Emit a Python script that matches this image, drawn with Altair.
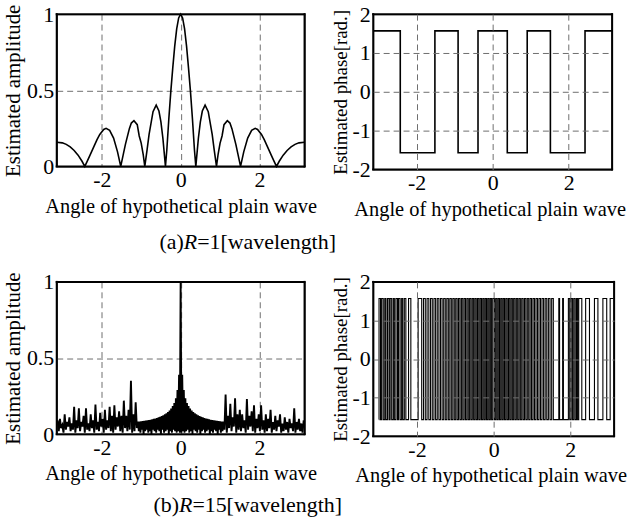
import altair as alt
import pandas as pd

FONT = "Liberation Serif"
PI = 3.1416
HALF_PI = 1.5708

# ---------------- (a) R = 1 wavelength ----------------
# amplitude
amp_a_x = [-3.1416, -3.0, -2.9, -2.8, -2.7, -2.6, -2.5, -2.43, -2.37, -2.3, -2.2, -2.12,
           -2.05, -1.95, -1.89, -1.8, -1.7, -1.6, -1.519, -1.45, -1.4, -1.3, -1.25, -1.184,
           -1.1, -1.05, -1.0, -0.95, -0.909, -0.85, -0.8, -0.7, -0.62, -0.55, -0.5, -0.45,
           -0.385, -0.35, -0.3, -0.25, -0.2, -0.15, -0.1, -0.05, 0.0,
           0.05, 0.1, 0.15, 0.2, 0.25, 0.3, 0.35, 0.385, 0.45, 0.5, 0.55, 0.62, 0.7, 0.8,
           0.85, 0.909, 0.95, 1.0, 1.05, 1.1, 1.184, 1.25, 1.3, 1.4, 1.45, 1.519, 1.6, 1.7,
           1.8, 1.89, 1.95, 2.05, 2.12, 2.2, 2.3, 2.37, 2.43, 2.5, 2.6, 2.7, 2.8, 2.9, 3.0,
           3.1416]
amp_a_y = [0.159, 0.155, 0.145, 0.128, 0.105, 0.074, 0.034, 0.0, 0.033, 0.073, 0.13, 0.176,
           0.21, 0.243, 0.25, 0.237, 0.186, 0.096, 0.0, 0.084, 0.145, 0.248, 0.285, 0.30,
           0.274, 0.20, 0.153, 0.08, 0.0, 0.11, 0.21, 0.36, 0.403, 0.364, 0.292, 0.185,
           0.0, 0.11, 0.31, 0.49, 0.646, 0.79, 0.904, 0.975, 1.0,
           0.975, 0.904, 0.79, 0.646, 0.49, 0.31, 0.11, 0.0, 0.185, 0.292, 0.364, 0.403, 0.36, 0.21,
           0.11, 0.0, 0.08, 0.153, 0.20, 0.274, 0.30, 0.285, 0.248, 0.145, 0.084, 0.0, 0.096, 0.186,
           0.237, 0.25, 0.243, 0.21, 0.176, 0.13, 0.073, 0.033, 0.0, 0.034, 0.074, 0.105, 0.128, 0.145, 0.155,
           0.159]

# phase: +pi/2 / -pi/2 step, positions where it flips
phase_a_start, phase_a_end, phase_a_first = -3.1416, 3.1416, 1
phase_a_flips = [-2.43, -1.519, -0.909, -0.385, 0.385, 0.909, 1.519, 2.43]

# ---------------- (b) R = 15 wavelength ----------------
# amplitude: spikes at the left side (sampled every 0.06 from -3.12) with the dips between them
amp_b_left_start, amp_b_side_step = -3.12, 0.06
amp_b_left_peaks = [0.09, 0.10, 0.06, 0.13, 0.08, 0.11, 0.07, 0.18, 0.09, 0.17, 0.08, 0.12,
                    0.17, 0.07, 0.13, 0.09, 0.195, 0.08, 0.14, 0.10, 0.16, 0.09, 0.18, 0.12,
                    0.19, 0.11, 0.15, 0.12, 0.22, 0.12, 0.16, 0.35, 0.13, 0.21]
amp_b_left_dips = [0.02, 0.04, 0.01, 0.03, 0.05, 0.02, 0.03, 0.01, 0.04, 0.02, 0.05, 0.01,
                   0.03, 0.02, 0.04, 0.01, 0.03, 0.02, 0.05, 0.01, 0.03, 0.04, 0.02, 0.01,
                   0.03, 0.05, 0.02, 0.01, 0.04, 0.02, 0.03, 0.01, 0.02, 0.04]
# central lobes (every 0.04 from -1.08 to 1.08)
amp_b_center_start, amp_b_center_step = -1.08, 0.04
amp_b_center_peaks = [0.082, 0.083, 0.084, 0.086, 0.087, 0.089, 0.091, 0.093, 0.095, 0.097,
                      0.100, 0.103, 0.106, 0.110, 0.114, 0.119, 0.124, 0.130, 0.137, 0.145,
                      0.155, 0.168, 0.185, 0.205, 0.235, 0.29, 0.39, 1.0, 0.39, 0.29, 0.235,
                      0.205, 0.185, 0.168, 0.155, 0.145, 0.137, 0.130, 0.124, 0.119, 0.114,
                      0.110, 0.106, 0.103, 0.100, 0.097, 0.095, 0.093, 0.091, 0.089, 0.087,
                      0.086, 0.084, 0.083, 0.082]
amp_b_center_dips = [0.02, 0.01, 0.03, 0.0, 0.02, 0.03, 0.01, 0.02, 0.0, 0.03, 0.02, 0.01,
                     0.03, 0.02, 0.0, 0.03, 0.01, 0.02, 0.03, 0.0, 0.02, 0.01, 0.03, 0.02,
                     0.01, 0.02, 0.01, 0.01, 0.02, 0.01, 0.02, 0.03, 0.01, 0.02, 0.0, 0.03,
                     0.02, 0.01, 0.03, 0.0, 0.02, 0.03, 0.01, 0.02, 0.03, 0.0, 0.02, 0.01,
                     0.03, 0.02, 0.0, 0.03, 0.01, 0.02]
# spikes at the right side (every 0.06 from 1.14)
amp_b_right_start = 1.14
amp_b_right_peaks = [0.26, 0.12, 0.20, 0.11, 0.235, 0.13, 0.16, 0.13, 0.09, 0.23, 0.12, 0.15,
                     0.19, 0.10, 0.13, 0.19, 0.09, 0.13, 0.10, 0.16, 0.08, 0.12, 0.09, 0.13,
                     0.07, 0.11, 0.08, 0.10, 0.07, 0.17, 0.08, 0.10, 0.07, 0.09]
amp_b_right_dips = [0.03, 0.01, 0.04, 0.02, 0.05, 0.01, 0.03, 0.02, 0.04, 0.01, 0.03, 0.05,
                    0.02, 0.01, 0.04, 0.02, 0.03, 0.01, 0.02, 0.04, 0.01, 0.03, 0.02, 0.05,
                    0.01, 0.02, 0.03, 0.01, 0.04, 0.02, 0.01, 0.03, 0.02, 0.01]

# phase (b): flip positions
phase_b_start, phase_b_end, phase_b_first = -2.995, 3.12, -1
phase_b_flips = [
    -2.99, -2.95, -2.92, -2.88, -2.84, -2.81, -2.77, -2.73, -2.70, -2.66, -2.62, -2.59, -2.55,
    -2.51, -2.48, -2.44, -2.40, -2.37, -2.33, -2.29, -2.22, -2.16,
    -1.97, -1.877, -1.83, -1.783, -1.737, -1.691, -1.646, -1.601,
    -1.557, -1.514, -1.471, -1.428, -1.386, -1.344, -1.303, -1.262, -1.222, -1.182, -1.143,
    -1.104, -1.065, -1.027, -0.989, -0.952, -0.915, -0.878, -0.841, -0.805, -0.769, -0.733,
    -0.697, -0.662, -0.627, -0.592, -0.557, -0.522, -0.488, -0.454, -0.420, -0.386, -0.352,
    -0.318, -0.284, -0.251, -0.218, -0.185, -0.152, -0.119, -0.086, -0.053, -0.02,
    0.02, 0.053, 0.086, 0.119, 0.152, 0.185, 0.218, 0.251, 0.284, 0.318, 0.352, 0.386, 0.420,
    0.454, 0.488, 0.522, 0.557, 0.592, 0.627, 0.662, 0.697, 0.733, 0.769, 0.805, 0.841, 0.878,
    0.915, 0.952, 0.989, 1.027, 1.065, 1.104, 1.143, 1.182, 1.222, 1.262, 1.303, 1.344, 1.386,
    1.428, 1.471, 1.514, 1.557,
    1.70, 1.72, 1.80, 1.82,
    1.95, 1.985, 2.02, 2.055, 2.09, 2.125, 2.16, 2.19, 2.22,
    2.30, 2.40, 2.50, 2.63, 2.72, 2.85, 2.95, 3.04]

x_domain = [-PI, PI]
amp_domain = [0, 1]
phase_domain = [-2, 2]
x_ticks = [-2, 0, 2]
amp_ticks = [0, 0.5, 1]
phase_ticks = [-2, -1, 0, 1, 2]
x_title = "Angle of hypothetical plain wave"
amp_title = "Estimated amplitude"
phase_title = "Estimated phase[rad.]"
# caption pieces: prefix, suffix (the R between them is italic)
captions = [("(a)", "=1[wavelength]"), ("(b)", "=15[wavelength]")]
# advance widths (em) of the caption pieces in a Times-metric serif
caption_em = {"(a)": 1.110, "(b)": 1.166, "R": 0.611,
              "=1[wavelength]": 6.340, "=15[wavelength]": 6.840}


# ---------------- build tables ----------------
def amp_b_frame():
    xs, ys = [], []
    for j, (p, d) in enumerate(zip(amp_b_left_peaks, amp_b_left_dips)):
        xs.append(amp_b_left_start + amp_b_side_step * j); ys.append(p)
        xs.append(amp_b_left_start + amp_b_side_step * (j + 0.5)); ys.append(d)
    for i, p in enumerate(amp_b_center_peaks):
        xs.append(amp_b_center_start + amp_b_center_step * i); ys.append(p)
        if i < len(amp_b_center_dips):
            xs.append(amp_b_center_start + amp_b_center_step * (i + 0.5)); ys.append(amp_b_center_dips[i])
    for j, (p, d) in enumerate(zip(amp_b_right_peaks, amp_b_right_dips)):
        xs.append(amp_b_right_start + amp_b_side_step * (j - 0.5)); ys.append(d)
        xs.append(amp_b_right_start + amp_b_side_step * j); ys.append(p)
    return pd.DataFrame({"x": [round(v, 4) for v in xs], "y": ys})


def step_frame(start, first, flips, end):
    s = first
    xs, ys = [start], [s * HALF_PI]
    for f in flips:
        s = -s
        xs.append(f); ys.append(s * HALF_PI)
    xs.append(end); ys.append(s * HALF_PI)
    return pd.DataFrame({"x": xs, "y": ys})


amp_a_df = pd.DataFrame({"x": amp_a_x, "y": amp_a_y})
amp_b_df = amp_b_frame()
phase_a_df = step_frame(phase_a_start, phase_a_first, phase_a_flips, phase_a_end)
phase_b_df = step_frame(phase_b_start, phase_b_first, phase_b_flips, phase_b_end)

GRID = dict(grid=True, gridColor="#6e6e6e", gridDash=[6, 4], gridWidth=1)
COMMON = dict(ticks=False, tickSize=0, domain=False,
              labelFont=FONT, titleFont=FONT,
              labelFontSize=22, labelColor="black", titleColor="black",
              titleFontWeight="normal", labelExpr="toString(datum.value)")
ONE = pd.DataFrame({"k": [0]})
EDGE_IN, EDGE_OUT = 1.0, 1.0   # plot box: band inside and outside the plot edge


def box_layers(w, h):
    """plot box drawn as four thin black bands straddling the plot edge"""
    a, b = EDGE_OUT, EDGE_IN
    spans = [(-a, w + a, -a, b), (-a, w + a, h - b, h + a),
             (-a, b, -a, h + a), (w - b, w + a, -a, h + a)]
    return [alt.Chart(ONE).mark_rect(color="black", strokeWidth=0, clip=False).encode(
        x=alt.value(x0), x2=alt.value(x1), y=alt.value(y0), y2=alt.value(y1))
        for x0, x1, y0, y1 in spans]


def x_axis(z, width, shift=0):
    return alt.Axis(values=x_ticks, title=x_title, labelPadding=3, titlePadding=6,
                    titleFontSize=20.5, labelFlush=False, zindex=z, titleX=width / 2 + shift,
                    **GRID, **COMMON)


def caption_layers(idx, cx, cy, fs=22):
    """(x)R=..[wavelength] with italic R, centred on cx (pixels from the plot's left)."""
    prefix, suffix = captions[idx]
    pw = caption_em[prefix] * fs
    rw = caption_em["R"] * fs
    sw = caption_em[suffix] * fs
    xr = cx - (pw + rw + sw) / 2 + pw
    style = dict(baseline="middle", font=FONT, fontSize=fs, color="black")
    t1 = alt.Chart(ONE).mark_text(text=prefix, align="right", **style).encode(
        x=alt.value(xr), y=alt.value(cy))
    t2 = alt.Chart(ONE).mark_text(text="R", align="left", fontStyle="italic", **style).encode(
        x=alt.value(xr), y=alt.value(cy))
    t3 = alt.Chart(ONE).mark_text(text=suffix, align="left", **style).encode(
        x=alt.value(xr + rw), y=alt.value(cy))
    return [t1, t2, t3]


def amp_chart(df, width, height, sw, cap_idx, cap_y):
    line = alt.Chart(df).mark_line(color="black", strokeWidth=sw).encode(
        x=alt.X("x:Q", scale=alt.Scale(domain=x_domain, nice=False, zero=False),
                axis=x_axis(0, width)),
        y=alt.Y("y:Q", scale=alt.Scale(domain=amp_domain, nice=False),
                axis=alt.Axis(values=amp_ticks, title=amp_title, labelPadding=3,
                              titlePadding=3, titleFontSize=21, zindex=0,
                              gridOpacity={"condition": {"test": "datum.value == 0.5", "value": 1},
                                           "value": 0},
                              **GRID, **COMMON)),
    )
    return alt.layer(line, *box_layers(width, height),
                     *caption_layers(cap_idx, 192, cap_y)).properties(
        width=width, height=height, view=alt.ViewBackground(stroke="black", strokeWidth=1))


def phase_chart(df, width, height, sw):
    line = alt.Chart(df).mark_line(color="black", strokeWidth=sw, interpolate="step-after").encode(
        x=alt.X("x:Q", scale=alt.Scale(domain=x_domain, nice=False, zero=False),
                axis=x_axis(1, width, shift=-3)),
        y=alt.Y("y:Q", scale=alt.Scale(domain=phase_domain, nice=False),
                axis=alt.Axis(values=phase_ticks, title=phase_title, labelPadding=3,
                              titlePadding=2, titleFontSize=19, zindex=1,
                              gridOpacity={"condition": {"test": "abs(datum.value) < 1.5", "value": 1},
                                           "value": 0},
                              **GRID, **COMMON)),
    )
    return alt.layer(line, *box_layers(width, height)).properties(
        width=width, height=height, view=alt.ViewBackground(stroke="black", strokeWidth=1))


chart = alt.concat(
    amp_chart(amp_a_df, 249, 153, 1.6, 0, 229),
    phase_chart(phase_a_df, 240, 156, 1.6),
    amp_chart(amp_b_df, 249, 153, 1.9, 1, 224),
    phase_chart(phase_b_df, 242, 155, 1.1),
    columns=2, spacing={"row": 113, "column": 69}, bounds="flush",
).properties(
    padding={"left": 1, "top": 1, "right": 0, "bottom": 0}
).configure(font=FONT).configure_view(stroke="black", strokeWidth=1)

chart.save("out.html", embed_options={"renderer": "svg", "actions": False})
